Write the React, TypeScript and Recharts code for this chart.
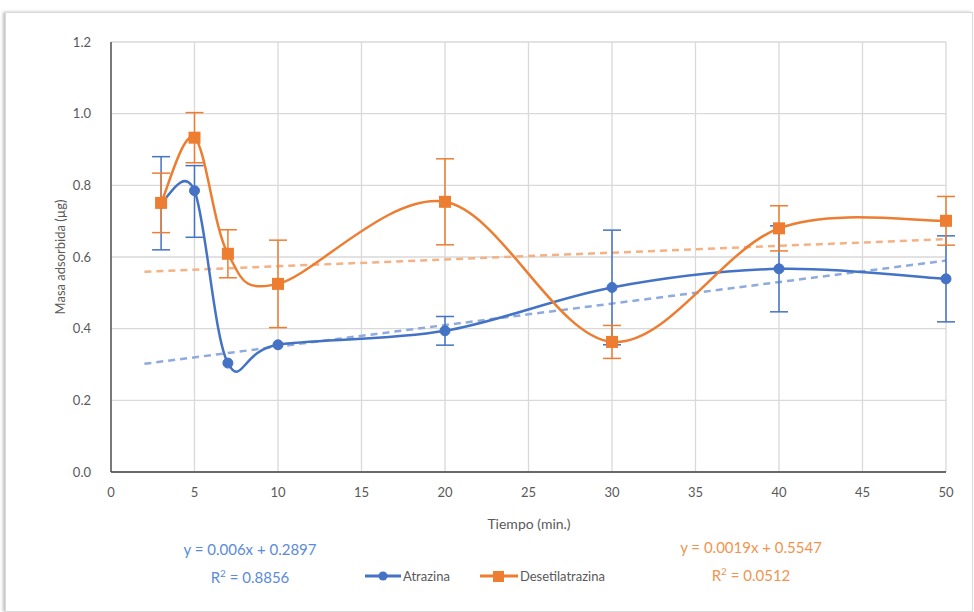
import React from 'react';
import { LineChart, Line, XAxis, YAxis, CartesianGrid, ErrorBar } from 'recharts';

// tiempo (min.) de cada muestreo
const tiempo = [3, 5, 7, 10, 20, 30, 40, 50];

const atrazina = [0.75, 0.785, 0.304, 0.355, 0.394, 0.515, 0.567, 0.539];
const atrazinaErr = [0.13, [0.13, 0.07], 0, 0, 0.04, 0.16, 0.12, 0.12];

const desetil = [0.751, 0.933, 0.609, 0.525, 0.754, 0.363, 0.68, 0.701];
const desetilErr = [0.083, 0.07, 0.067, 0.122, 0.12, 0.046, 0.063, 0.068];

// extremos de las líneas de tendencia (x = 2 .. 50)
const trendX = [2, 50];
const trendAtrazina = [0.302, 0.59];
const trendDesetil = [0.559, 0.65];

const xTicks = [0, 5, 10, 15, 20, 25, 30, 35, 40, 45, 50];
const yTicks = [0, 0.2, 0.4, 0.6, 0.8, 1.0, 1.2];

const BLUE = '#4472c4';
const ORANGE = '#ed7d31';
const GREY = '#595959';
const FONT = 'Lato, "Open Sans", sans-serif';

const atrazinaData = tiempo.map((x, i) => ({ x, y: atrazina[i], err: atrazinaErr[i] }));
const desetilData = tiempo.map((x, i) => ({ x, y: desetil[i], err: desetilErr[i] }));
const trendAData = trendX.map((x, i) => ({ x, y: trendAtrazina[i] }));
const trendDData = trendX.map((x, i) => ({ x, y: trendDesetil[i] }));

// Excel-like smoothed line (Catmull-Rom as bezier segments)
const excelSmooth = (context: any) => {
  let pts: number[][] = [];
  return {
    areaStart() {},
    areaEnd() {},
    lineStart() { pts = []; },
    point(x: number, y: number) { pts.push([+x, +y]); },
    lineEnd() {
      if (!pts.length) return;
      context.moveTo(pts[0][0], pts[0][1]);
      for (let i = 0; i < pts.length - 1; i++) {
        const p0 = pts[i - 1] || pts[i];
        const p1 = pts[i];
        const p2 = pts[i + 1];
        const p3 = pts[i + 2] || pts[i + 1];
        context.bezierCurveTo(
          p1[0] + (p2[0] - p0[0]) / 6, p1[1] + (p2[1] - p0[1]) / 6,
          p2[0] - (p3[0] - p1[0]) / 6, p2[1] - (p3[1] - p1[1]) / 6,
          p2[0], p2[1]
        );
      }
    },
  };
};

const SquareDot = (props: any) => {
  const { cx, cy } = props;
  if (cx == null || cy == null) return null;
  return <rect x={cx - 6} y={cy - 6} width={12} height={12} fill={ORANGE} />;
};

const LegendItems = () => (
  <div style={{ display: 'flex', alignItems: 'center', fontFamily: FONT, fontSize: 13, color: GREY }}>
    <svg width={36} height={12}>
      <line x1={0} y1={6} x2={36} y2={6} stroke={BLUE} strokeWidth={3} />
      <circle cx={18} cy={6} r={4.5} fill={BLUE} />
    </svg>
    <span style={{ marginLeft: 2, marginRight: 30 }}>Atrazina</span>
    <svg width={38} height={12}>
      <line x1={0} y1={6} x2={38} y2={6} stroke={ORANGE} strokeWidth={3} />
      <rect x={13} y={1} width={11} height={11} fill={ORANGE} />
    </svg>
    <span style={{ marginLeft: 2 }}>Desetilatrazina</span>
  </div>
);

export default function App() {
  return (
    <div style={{ position: 'absolute', left: 0, top: 0, width: 974, height: 612, background: '#fff', overflow: 'hidden' }}>
      <div style={{
        position: 'absolute', left: 5, top: 12, width: 966, height: 598,
        border: '1px solid #d9d9d9', boxShadow: '-2px 0 3px rgba(0,0,0,0.25)', background: '#fff',
      }} />
      <div style={{ position: 'absolute', left: 0, top: 0 }}>
        <LineChart width={974} height={612} margin={{ top: 42, right: 28, bottom: 110, left: 51 }}>
          <CartesianGrid stroke="#d9d9d9" strokeWidth={1.3} />
          <XAxis
            dataKey="x" type="number" domain={[0, 50]} ticks={xTicks} allowDuplicatedCategory={false}
            height={30} tickLine={false} tickMargin={10}
            axisLine={{ stroke: '#404040', strokeWidth: 1.3 }}
            tick={{ fill: GREY, fontSize: 13, fontFamily: FONT }}
          />
          <YAxis
            dataKey="y" type="number" domain={[0, 1.2]} ticks={yTicks} width={60}
            tickLine={false} tickMargin={14}
            axisLine={{ stroke: '#404040', strokeWidth: 1.3 }}
            tickFormatter={(v: number) => v.toFixed(1)}
            tick={{ fill: GREY, fontSize: 13, fontFamily: FONT }}
          />
          <Line data={trendAData} dataKey="y" type="linear" stroke="#8faadc" strokeWidth={2.5}
            strokeDasharray="7 5" dot={false} isAnimationActive={false} />
          <Line data={trendDData} dataKey="y" type="linear" stroke="#f4b183" strokeWidth={2.5}
            strokeDasharray="7 5" dot={false} isAnimationActive={false} />
          <Line data={atrazinaData} dataKey="y" type={excelSmooth as any} stroke={BLUE} strokeWidth={2.5}
            dot={{ r: 5, fill: BLUE, stroke: BLUE, strokeWidth: 1 }} isAnimationActive={false}>
            <ErrorBar dataKey="err" direction="y" width={9} stroke={BLUE} strokeWidth={1.5} isAnimationActive={false} />
          </Line>
          <Line data={desetilData} dataKey="y" type={excelSmooth as any} stroke={ORANGE} strokeWidth={2.5}
            dot={<SquareDot />} isAnimationActive={false}>
            <ErrorBar dataKey="err" direction="y" width={9} stroke={ORANGE} strokeWidth={1.5} isAnimationActive={false} />
          </Line>
        </LineChart>
      </div>

      <div style={{
        position: 'absolute', left: 60, top: 257, transform: 'translate(-50%, -50%) rotate(-90deg)',
        whiteSpace: 'nowrap', fontFamily: FONT, fontSize: 13, color: GREY,
      }}>Masa adsorbida (µg)</div>
      <div style={{
        position: 'absolute', left: 529, top: 523, transform: 'translate(-50%, -50%)',
        whiteSpace: 'nowrap', fontFamily: FONT, fontSize: 14, color: GREY,
      }}>Tiempo (min.)</div>

      <div style={{ position: 'absolute', left: 365, top: 568 }}>
        <LegendItems />
      </div>

      <div style={{
        position: 'absolute', left: 250, top: 537, transform: 'translateX(-50%)', textAlign: 'center',
        fontFamily: FONT, fontSize: 15, lineHeight: '24px', color: '#5b8bd9', whiteSpace: 'nowrap',
      }}>
        <div>y = 0.006x + 0.2897</div>
        <div>R<sup style={{ fontSize: 10 }}>2</sup> = 0.8856</div>
      </div>
      <div style={{
        position: 'absolute', left: 751, top: 535, transform: 'translateX(-50%)', textAlign: 'center',
        fontFamily: FONT, fontSize: 15, lineHeight: '24px', color: '#f0954f', whiteSpace: 'nowrap',
      }}>
        <div>y = 0.0019x + 0.5547</div>
        <div>R<sup style={{ fontSize: 10 }}>2</sup> = 0.0512</div>
      </div>
    </div>
  );
}
